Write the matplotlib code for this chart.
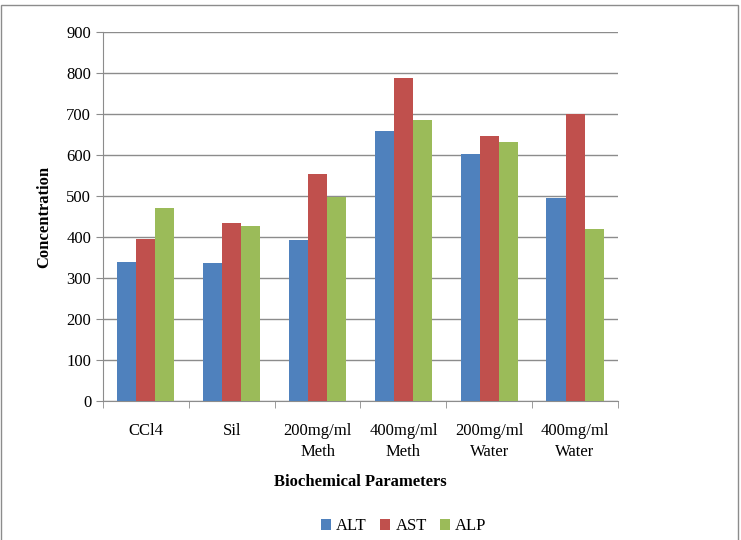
import matplotlib.pyplot as plt
import numpy as np
from matplotlib.patches import Rectangle

categories = ['CCl4', 'Sil', '200mg/ml\nMeth', '400mg/ml\nMeth', '200mg/ml\nWater', '400mg/ml\nWater']
alt = [338, 336, 392, 658, 602, 494]
ast = [394, 434, 553, 789, 646, 699]
alp = [470, 428, 498, 685, 632, 419]
series_names = ['ALT', 'AST', 'ALP']
yticks = [0, 100, 200, 300, 400, 500, 600, 700, 800, 900]

colors = ['#4F81BD', '#C0504D', '#9BBB59']

plt.rcParams['font.family'] = ['Liberation Serif', 'DejaVu Serif']

fig = plt.figure(figsize=(7.41, 5.40), dpi=100)
ax = fig.add_axes([0.139, 0.2574, 0.695, 0.6833])

x = np.arange(len(categories))
w = 0.222
for i, (vals, name) in enumerate(zip([alt, ast, alp], series_names)):
    ax.bar(x + (i - 1) * w, vals, width=w, color=colors[i], label=name, zorder=3)

ax.set_xlim(-0.5, len(categories) - 0.5)
ax.set_ylim(0, 900)
ax.set_yticks(yticks)
ax.yaxis.grid(True, color='#8C8C8C', linewidth=1, zorder=0)

ax.set_xticks(x)
ax.set_xticklabels(categories, fontsize=12, linespacing=1.4)
ax.set_xticks(np.arange(len(categories) + 1) - 0.5, minor=True)
ax.tick_params(axis='x', which='major', length=0, pad=16)
ax.tick_params(axis='x', which='minor', length=5, color='#8C8C8C', direction='out')
ax.tick_params(axis='y', labelsize=12, length=5, color='#8C8C8C', direction='out')

for s in ['top', 'right']:
    ax.spines[s].set_visible(False)
for s in ['left', 'bottom']:
    ax.spines[s].set_color('#8C8C8C')

ax.set_ylabel('Concentration', fontsize=12, fontweight='bold', labelpad=10)
ax.set_xlabel('Biochemical Parameters', fontsize=12, fontweight='bold', labelpad=10)

leg = fig.legend(loc='center', bbox_to_anchor=(0.545, 0.025), ncol=3, frameon=False,
                 fontsize=12, handlelength=0.6, handleheight=0.6, handletextpad=0.3,
                 columnspacing=0.8)

fig.patches.append(Rectangle((0.002, -0.01), 0.994, 1.0, transform=fig.transFigure,
                             fill=False, edgecolor='#8C8C8C', linewidth=1))

fig.savefig('out.png', dpi=100)
